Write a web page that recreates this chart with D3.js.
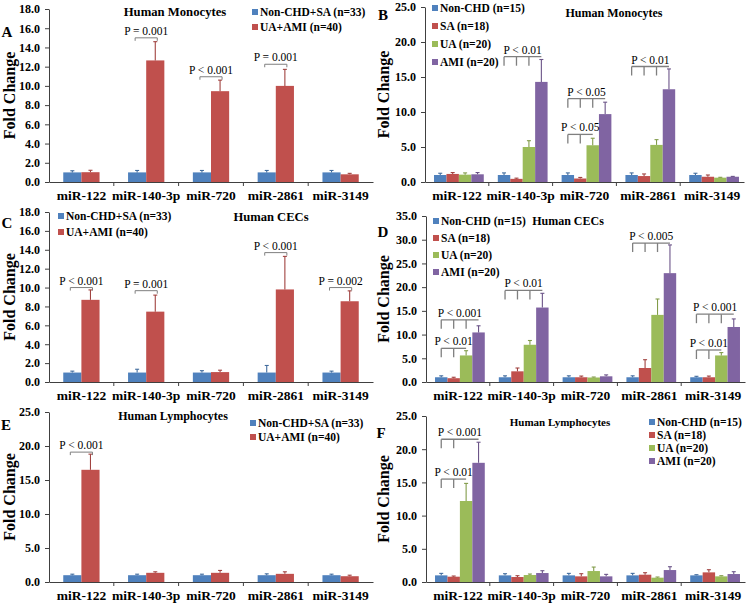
<!DOCTYPE html>
<html><head><meta charset="utf-8">
<script src="https://cdn.jsdelivr.net/npm/d3@7"></script>
<style>
body{margin:0;background:#fff}
svg{display:block}
text{font-family:"Liberation Serif","Times New Roman",serif}
</style>
</head><body>
<svg id="chart" width="749" height="603"></svg>
<script>
// ---------- DATA ----------
const categories = ["miR-122", "miR-140-3p", "miR-720", "miR-2861", "miR-3149"];
const twoGroups = ["Non-CHD+SA (n=33)", "UA+AMI (n=40)"];
const fourGroups = ["Non-CHD (n=15)", "SA (n=18)", "UA (n=20)", "AMI (n=20)"];
const colors = ["#4F81BD", "#C0504D", "#9BBB59", "#8064A2"];

const ticksA = [0, 2, 4, 6, 8, 10, 12, 14, 16, 18];
const ticksB = [0, 5, 10, 15, 20, 25];
const ticksC = [0, 2, 4, 6, 8, 10, 12, 14, 16, 18];
const ticksD = [0, 5, 10, 15, 20, 25, 30, 35];
const ticksE = [0, 5, 10, 15, 20, 25];
const ticksF = [0, 5, 10, 15, 20, 25];

// A: Human Monocytes (2 groups)
const aNonChdSa    = [1.0, 1.0, 1.0, 1.0, 1.0];
const aNonChdSaErr = [0.17, 0.2, 0.2, 0.2, 0.2];
const aUaAmi       = [1.02, 12.65, 9.45, 10.0, 0.8];
const aUaAmiErr    = [0.2, 1.95, 1.15, 1.72, 0.1];
const aBrackets = [
  {cat: 1, level: 15.0, label: "P = 0.001"},
  {cat: 2, level: 10.95, label: "P < 0.001"},
  {cat: 3, level: 12.25, label: "P = 0.001"}
];

// B: Human Monocytes (4 groups)
const bNonChd = [1.0, 1.0, 1.0, 1.0, 1.0];
const bNonChdErr = [0.25, 0.3, 0.3, 0.3, 0.25];
const bSa = [1.15, 0.45, 0.5, 0.85, 0.75];
const bSaErr = [0.2, 0.1, 0.15, 0.3, 0.25];
const bUa = [1.05, 5.0, 5.25, 5.3, 0.62];
const bUaErr = [0.25, 0.9, 1.0, 0.75, 0.05];
const bAmi = [1.1, 14.3, 9.7, 13.25, 0.75];
const bAmiErr = [0.25, 3.2, 1.7, 2.9, 0.05];
const bBrackets = [
  {cat: 1, level: 17.9, to: 3, ticks: [0, 1, 2], label: "P < 0.01"},
  {cat: 2, level: 11.9, to: 3, ticks: [0, 1, 2], label: "P < 0.05"},
  {cat: 2, level: 6.8, to: 2, ticks: [0, 1], label: "P < 0.05"},
  {cat: 3, level: 16.5, to: 3, ticks: [0, 1, 2], label: "P < 0.01"}
];

// C: Human CECs (2 groups)
const cNonChdSa    = [1.0, 1.0, 1.0, 1.0, 1.0];
const cNonChdSaErr = [0.15, 0.35, 0.2, 0.75, 0.15];
const cUaAmi       = [8.7, 7.45, 1.05, 9.8, 8.55];
const cUaAmiErr    = [1.05, 1.75, 0.2, 3.5, 1.1];
const cBrackets = [
  {cat: 0, level: 10.0, label: "P < 0.001"},
  {cat: 1, level: 9.67, label: "P = 0.001"},
  {cat: 3, level: 13.7, label: "P < 0.001"},
  {cat: 4, level: 10.0, label: "P = 0.002"}
];

// D: Human CECs (4 groups)
const dNonChd = [1.0, 1.0, 1.0, 1.0, 1.0];
const dNonChdErr = [0.3, 0.3, 0.3, 0.3, 0.2];
const dSa = [0.8, 2.25, 1.0, 2.95, 1.0];
const dSaErr = [0.2, 0.7, 0.25, 1.75, 0.25];
const dUa = [5.6, 7.85, 0.95, 14.15, 5.6];
const dUaErr = [1.0, 0.9, 0.1, 3.35, 0.6];
const dAmi = [10.45, 15.7, 1.2, 22.95, 11.6];
const dAmiErr = [1.4, 3.0, 0.3, 5.95, 1.7];
const dBrackets = [
  {cat: 0, level: 13.1, to: 3, ticks: [0, 1, 2], label: "P < 0.001"},
  {cat: 0, level: 7.1, to: 2, ticks: [0, 1], label: "P < 0.01"},
  {cat: 1, level: 19.3, to: 3, ticks: [0, 1, 2], label: "P < 0.01"},
  {cat: 3, level: 29.3, to: 3, ticks: [0, 1, 2], label: "P < 0.005"},
  {cat: 4, level: 14.3, to: 3, ticks: [0, 1, 2], label: "P < 0.001"},
  {cat: 4, level: 6.75, to: 2, ticks: [0, 1], label: "P < 0.01"}
];

// E: Human Lymphocytes (2 groups)
const eNonChdSa    = [1.0, 1.0, 1.0, 1.0, 1.0];
const eNonChdSaErr = [0.15, 0.15, 0.15, 0.2, 0.15];
const eUaAmi       = [16.5, 1.35, 1.35, 1.2, 0.85];
const eUaAmiErr    = [2.3, 0.15, 0.35, 0.3, 0.15];
const eBrackets = [
  {cat: 0, level: 19.1, label: "P < 0.001"}
];

// F: Human Lymphocytes (4 groups)
const fNonChd = [1.0, 1.0, 1.0, 1.0, 1.0];
const fNonChdErr = [0.3, 0.25, 0.3, 0.3, 0.1];
const fSa = [0.8, 0.75, 0.85, 1.1, 1.45];
const fSaErr = [0.1, 0.2, 0.4, 0.3, 0.4];
const fUa = [12.2, 1.05, 1.65, 0.65, 0.85];
const fUaErr = [2.65, 0.15, 0.6, 0.1, 0.1];
const fAmi = [17.95, 1.35, 0.85, 1.8, 1.2];
const fAmiErr = [3.1, 0.35, 0.3, 0.5, 0.35];
const fBrackets = [
  {cat: 0, level: 21.5, to: 3, ticks: [0, 1], label: "P < 0.001"},
  {cat: 0, level: 15.5, to: 2, ticks: [0, 1], label: "P < 0.01"}
];

// ---------- LAYOUT ----------
const svg = d3.select("#chart");
const axisColor = "#404040";
const bracketColor = "#7f7f7f";

const panels = [
  {letter: "A", groups: twoGroups, values: [aNonChdSa, aUaAmi], errs: [aNonChdSaErr, aUaAmiErr], brackets: aBrackets, ticks: ticksA,
   left: 49, right: 373, top: 9, bottom: 182, title: "Human Monocytes", titleX: 175, titleY: 12, titleSize: 12.7,
   legX: 252, legY: [12, 27], letterX: 7, letterY: 32, labelX: 9},
  {letter: "B", groups: fourGroups, values: [bNonChd, bSa, bUa, bAmi], errs: [bNonChdErr, bSaErr, bUaErr, bAmiErr], brackets: bBrackets, ticks: ticksB,
   left: 425, right: 744, top: 7, bottom: 182, title: "Human Monocytes", titleX: 614, titleY: 13, titleSize: 12,
   legX: 432, legY: [8, 26, 44, 62], letterX: 383, letterY: 15, labelX: 383},
  {letter: "C", groups: twoGroups, values: [cNonChdSa, cUaAmi], errs: [cNonChdSaErr, cUaAmiErr], brackets: cBrackets, ticks: ticksC,
   left: 49, right: 373, top: 212, bottom: 382, title: "Human CECs", titleX: 271, titleY: 217, titleSize: 12.6,
   legX: 58, legY: [216, 232], letterX: 7, letterY: 223, labelX: 9},
  {letter: "D", groups: fourGroups, values: [dNonChd, dSa, dUa, dAmi], errs: [dNonChdErr, dSaErr, dUaErr, dAmiErr], brackets: dBrackets, ticks: ticksD,
   left: 426, right: 745, top: 216, bottom: 382, title: "Human CECs", titleX: 568, titleY: 221, titleSize: 12,
   legX: 433, legY: [221, 238, 255, 272], letterX: 383, letterY: 232, labelX: 383},
  {letter: "E", groups: twoGroups, values: [eNonChdSa, eUaAmi], errs: [eNonChdSaErr, eUaAmiErr], brackets: eBrackets, ticks: ticksE,
   left: 49, right: 373, top: 412, bottom: 582, title: "Human Lymphocytes", titleX: 173, titleY: 416, titleSize: 12,
   legX: 250, legY: [423, 437], letterX: 6, letterY: 425, labelX: 9},
  {letter: "F", groups: fourGroups, values: [fNonChd, fSa, fUa, fAmi], errs: [fNonChdErr, fSaErr, fUaErr, fAmiErr], brackets: fBrackets, ticks: ticksF,
   left: 426, right: 745, top: 416, bottom: 582, title: "Human Lymphocytes", titleX: 560, titleY: 422, titleSize: 11,
   legX: 649, legY: [422, 435, 448, 461], letterX: 381, letterY: 433, labelX: 383}
];

function drawPanel(p) {
  const g = svg.append("g");
  const n = p.groups.length;
  const yMax = p.ticks[p.ticks.length - 1];
  const x0 = d3.scaleBand().domain(categories).range([p.left, p.right]).paddingInner(0).paddingOuter(0);
  const bw = x0.bandwidth();
  const groupW = n === 2 ? bw * 0.56 : bw * 0.78;
  const shift = n === 4 ? 2 : 0;
  const x1 = d3.scaleBand().domain(d3.range(n)).range([(bw - groupW) / 2 + shift, (bw + groupW) / 2 + shift]);
  const y = d3.scaleLinear().domain([0, yMax]).range([p.bottom, p.top]);

  // bars
  p.values.forEach((vals, si) => {
    g.append("g").selectAll("rect").data(vals).join("rect")
      .attr("x", (d, i) => x0(categories[i]) + x1(si))
      .attr("y", d => y(d))
      .attr("width", x1.bandwidth())
      .attr("height", d => y(0) - y(d))
      .attr("fill", colors[si]);
  });
  // error bars
  p.values.forEach((vals, si) => {
    const errs = p.errs[si];
    const col = d3.color(colors[si]).darker(0.5);
    const eg = g.append("g").attr("stroke", col).attr("stroke-width", 1.1);
    vals.forEach((v, i) => {
      const cx = x0(categories[i]) + x1(si) + x1.bandwidth() / 2;
      eg.append("line").attr("x1", cx).attr("x2", cx).attr("y1", y(v)).attr("y2", y(v + errs[i]));
      eg.append("line").attr("x1", cx - 2).attr("x2", cx + 2).attr("y1", y(v + errs[i])).attr("y2", y(v + errs[i]));
    });
  });

  // y axis
  const ya = d3.axisLeft(y).tickValues(p.ticks).tickFormat(d3.format(".1f")).tickSize(4).tickSizeOuter(0).tickPadding(5);
  const yg = g.append("g").attr("transform", `translate(${p.left},0)`).call(ya);
  yg.select(".domain").attr("stroke", axisColor);
  yg.selectAll(".tick line").attr("stroke", axisColor);
  yg.selectAll(".tick text").attr("font-weight", "bold").attr("font-size", 12).attr("fill", "#000");

  // x axis
  const xa = d3.axisBottom(x0).tickSize(0).tickSizeOuter(0).tickPadding(8);
  const xg = g.append("g").attr("transform", `translate(0,${p.bottom})`).call(xa);
  xg.select(".domain").attr("stroke", axisColor);
  xg.selectAll(".tick text").attr("font-weight", "bold").attr("font-size", 13.5).attr("fill", "#000");
  // category boundary ticks
  xg.append("g").selectAll("line").data(categories.slice(1)).join("line")
    .attr("x1", d => x0(d)).attr("x2", d => x0(d)).attr("y1", 0).attr("y2", 4)
    .attr("stroke", axisColor);

  // y label
  g.append("text")
    .attr("transform", `translate(${p.labelX},${(p.top + p.bottom) / 2}) rotate(-90)`)
    .attr("text-anchor", "middle").attr("dominant-baseline", "central")
    .attr("font-weight", "bold").attr("font-size", 16).text("Fold Change");

  // panel letter
  g.append("text").attr("x", p.letterX).attr("y", p.letterY)
    .attr("text-anchor", "middle").attr("dominant-baseline", "central")
    .attr("font-weight", "bold").attr("font-size", 15).text(p.letter);

  // title
  g.append("text").attr("x", p.titleX).attr("y", p.titleY)
    .attr("text-anchor", "middle").attr("dominant-baseline", "central")
    .attr("font-weight", "bold").attr("font-size", p.titleSize).text(p.title);

  // legend
  const lg = g.append("g");
  p.groups.forEach((name, si) => {
    lg.append("rect").attr("x", p.legX).attr("y", p.legY[si] - 3).attr("width", 6).attr("height", 6).attr("fill", colors[si]);
    lg.append("text").attr("x", p.legX + 8).attr("y", p.legY[si])
      .attr("dominant-baseline", "central").attr("font-weight", "bold").attr("font-size", 11.5).text(name);
  });

  // significance brackets
  const bg = g.append("g");
  p.brackets.forEach(b => {
    const bx = si => x0(categories[b.cat]) + x1(si) + x1.bandwidth() / 2;
    const yy = y(b.level);
    let xa1, xa2;
    if (n === 2) {
      xa1 = bx(0) - 2; xa2 = bx(1) + 2;
      bg.append("path").attr("d", `M${xa1},${yy + 3}V${yy}H${xa2}V${yy + 3}`)
        .attr("fill", "none").attr("stroke", bracketColor).attr("stroke-width", 1);
    } else {
      xa1 = bx(0); xa2 = bx(b.to);
      bg.append("line").attr("x1", xa1).attr("x2", xa2).attr("y1", yy).attr("y2", yy)
        .attr("stroke", bracketColor).attr("stroke-width", 1.3);
      b.ticks.forEach(ti => {
        bg.append("line").attr("x1", bx(ti)).attr("x2", bx(ti)).attr("y1", yy).attr("y2", yy + 9)
          .attr("stroke", bracketColor).attr("stroke-width", 1.3);
      });
    }
    bg.append("text").attr("x", (xa1 + xa2) / 2).attr("y", yy - 3)
      .attr("text-anchor", "middle").attr("font-size", 11.5).text(b.label);
  });
}

panels.forEach(drawPanel);
</script>
</body></html>
